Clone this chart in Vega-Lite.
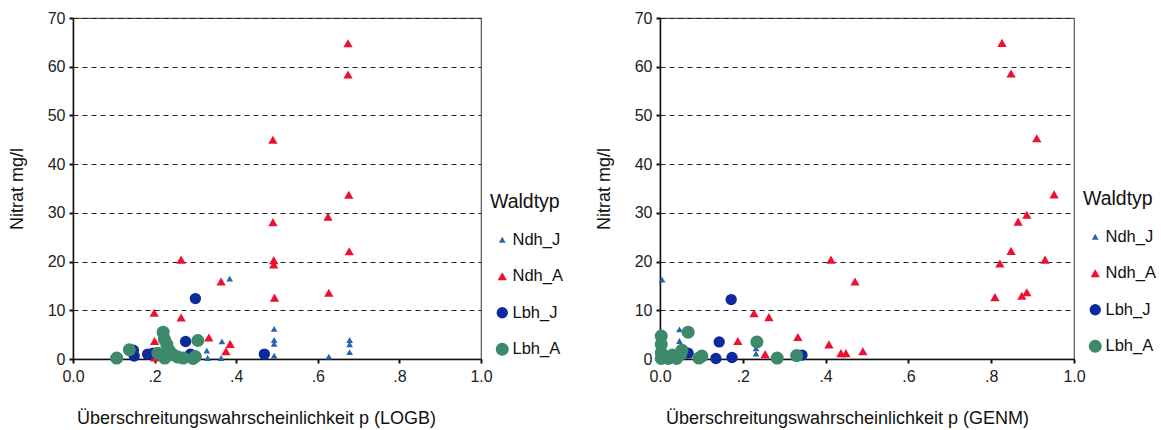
{
  "$schema": "https://vega.github.io/schema/vega-lite/v6.json",
  "padding": {"left": 7, "top": 9, "right": 0, "bottom": 5},
  "background": "white",
  "config": {
    "font": "Liberation Sans",
    "view": {"stroke": "#555", "strokeWidth": 1.2},
    "axis": {
      "labelFont": "Liberation Sans", "labelFontSize": 16, "labelColor": "#222",
      "titleFont": "Liberation Sans", "titleFontSize": 18, "titleFontWeight": "normal", "titleColor": "#111",
      "domainColor": "#111", "domainWidth": 1.5, "tickColor": "#111", "tickSize": 4, "tickWidth": 2
    },
    "legend": {
      "titleFont": "Liberation Sans", "titleFontSize": 19.5, "titleFontWeight": "normal", "titleColor": "#111",
      "labelFont": "Liberation Sans", "labelFontSize": 16.5, "labelColor": "#111",
      "padding": 0, "titlePadding": 19, "rowPadding": 19.5, "labelOffset": 2, "symbolOffset": 4, "symbolStrokeWidth": 0
    }
  },
  "datasets": {
    "pts": [
      {"m": "LOGB", "w": "Ndh_A", "p": 0.674, "n": 64.8},
      {"m": "LOGB", "w": "Ndh_A", "p": 0.674, "n": 58.4},
      {"m": "LOGB", "w": "Ndh_A", "p": 0.49, "n": 45.0},
      {"m": "LOGB", "w": "Ndh_A", "p": 0.676, "n": 33.7},
      {"m": "LOGB", "w": "Ndh_A", "p": 0.625, "n": 29.2},
      {"m": "LOGB", "w": "Ndh_A", "p": 0.49, "n": 28.1},
      {"m": "LOGB", "w": "Ndh_A", "p": 0.677, "n": 22.1},
      {"m": "LOGB", "w": "Ndh_A", "p": 0.265, "n": 20.4},
      {"m": "LOGB", "w": "Ndh_A", "p": 0.492, "n": 20.3},
      {"m": "LOGB", "w": "Ndh_A", "p": 0.492, "n": 19.4},
      {"m": "LOGB", "w": "Ndh_A", "p": 0.363, "n": 15.9},
      {"m": "LOGB", "w": "Ndh_A", "p": 0.494, "n": 12.6},
      {"m": "LOGB", "w": "Ndh_A", "p": 0.627, "n": 13.6},
      {"m": "LOGB", "w": "Ndh_A", "p": 0.199, "n": 9.5},
      {"m": "LOGB", "w": "Ndh_A", "p": 0.265, "n": 8.5},
      {"m": "LOGB", "w": "Ndh_A", "p": 0.333, "n": 4.4},
      {"m": "LOGB", "w": "Ndh_A", "p": 0.385, "n": 3.1},
      {"m": "LOGB", "w": "Ndh_A", "p": 0.375, "n": 1.6},
      {"m": "LOGB", "w": "Ndh_A", "p": 0.2, "n": 3.7},
      {"m": "LOGB", "w": "Ndh_A", "p": 0.2, "n": 0.3},
      {"m": "LOGB", "w": "Ndh_J", "p": 0.384, "n": 16.5},
      {"m": "LOGB", "w": "Ndh_J", "p": 0.365, "n": 3.6},
      {"m": "LOGB", "w": "Ndh_J", "p": 0.328, "n": 1.7},
      {"m": "LOGB", "w": "Ndh_J", "p": 0.33, "n": 0.2},
      {"m": "LOGB", "w": "Ndh_J", "p": 0.363, "n": 0.2},
      {"m": "LOGB", "w": "Ndh_J", "p": 0.493, "n": 6.2},
      {"m": "LOGB", "w": "Ndh_J", "p": 0.493, "n": 3.9},
      {"m": "LOGB", "w": "Ndh_J", "p": 0.493, "n": 3.1},
      {"m": "LOGB", "w": "Ndh_J", "p": 0.493, "n": 0.7},
      {"m": "LOGB", "w": "Ndh_J", "p": 0.627, "n": 0.5},
      {"m": "LOGB", "w": "Ndh_J", "p": 0.678, "n": 3.9},
      {"m": "LOGB", "w": "Ndh_J", "p": 0.678, "n": 3.0},
      {"m": "LOGB", "w": "Ndh_J", "p": 0.678, "n": 1.4},
      {"m": "LOGB", "w": "Lbh_J", "p": 0.3, "n": 12.4},
      {"m": "LOGB", "w": "Lbh_J", "p": 0.276, "n": 3.6},
      {"m": "LOGB", "w": "Lbh_J", "p": 0.469, "n": 1.0},
      {"m": "LOGB", "w": "Lbh_J", "p": 0.15, "n": 0.6},
      {"m": "LOGB", "w": "Lbh_J", "p": 0.148, "n": 1.8},
      {"m": "LOGB", "w": "Lbh_J", "p": 0.183, "n": 1.0},
      {"m": "LOGB", "w": "Lbh_J", "p": 0.196, "n": 1.2},
      {"m": "LOGB", "w": "Lbh_J", "p": 0.288, "n": 1.0},
      {"m": "LOGB", "w": "Lbh_A", "p": 0.107, "n": 0.2},
      {"m": "LOGB", "w": "Lbh_A", "p": 0.138, "n": 1.9},
      {"m": "LOGB", "w": "Lbh_A", "p": 0.221, "n": 5.5},
      {"m": "LOGB", "w": "Lbh_A", "p": 0.224, "n": 4.1},
      {"m": "LOGB", "w": "Lbh_A", "p": 0.23, "n": 3.0},
      {"m": "LOGB", "w": "Lbh_A", "p": 0.235, "n": 1.8},
      {"m": "LOGB", "w": "Lbh_A", "p": 0.245, "n": 0.9},
      {"m": "LOGB", "w": "Lbh_A", "p": 0.257, "n": 0.4},
      {"m": "LOGB", "w": "Lbh_A", "p": 0.27, "n": 0.2},
      {"m": "LOGB", "w": "Lbh_A", "p": 0.208, "n": 1.2},
      {"m": "LOGB", "w": "Lbh_A", "p": 0.225, "n": 0.2},
      {"m": "LOGB", "w": "Lbh_A", "p": 0.306, "n": 3.8},
      {"m": "LOGB", "w": "Lbh_A", "p": 0.3, "n": 0.5},
      {"m": "LOGB", "w": "Lbh_A", "p": 0.294, "n": 0.1},
      {"m": "GENM", "w": "Ndh_A", "p": 0.826, "n": 64.9},
      {"m": "GENM", "w": "Ndh_A", "p": 0.848, "n": 58.6},
      {"m": "GENM", "w": "Ndh_A", "p": 0.91, "n": 45.3},
      {"m": "GENM", "w": "Ndh_A", "p": 0.952, "n": 33.8},
      {"m": "GENM", "w": "Ndh_A", "p": 0.886, "n": 29.6},
      {"m": "GENM", "w": "Ndh_A", "p": 0.865, "n": 28.2},
      {"m": "GENM", "w": "Ndh_A", "p": 0.848, "n": 22.2},
      {"m": "GENM", "w": "Ndh_A", "p": 0.93, "n": 20.4},
      {"m": "GENM", "w": "Ndh_A", "p": 0.821, "n": 19.6},
      {"m": "GENM", "w": "Ndh_A", "p": 0.809, "n": 12.7},
      {"m": "GENM", "w": "Ndh_A", "p": 0.886, "n": 13.7},
      {"m": "GENM", "w": "Ndh_A", "p": 0.874, "n": 13.0},
      {"m": "GENM", "w": "Ndh_A", "p": 0.413, "n": 20.4},
      {"m": "GENM", "w": "Ndh_A", "p": 0.471, "n": 15.9},
      {"m": "GENM", "w": "Ndh_A", "p": 0.227, "n": 9.4},
      {"m": "GENM", "w": "Ndh_A", "p": 0.263, "n": 8.6},
      {"m": "GENM", "w": "Ndh_A", "p": 0.188, "n": 3.7},
      {"m": "GENM", "w": "Ndh_A", "p": 0.333, "n": 4.5},
      {"m": "GENM", "w": "Ndh_A", "p": 0.408, "n": 3.0},
      {"m": "GENM", "w": "Ndh_A", "p": 0.437, "n": 1.2},
      {"m": "GENM", "w": "Ndh_A", "p": 0.449, "n": 1.2},
      {"m": "GENM", "w": "Ndh_A", "p": 0.49, "n": 1.6},
      {"m": "GENM", "w": "Ndh_A", "p": 0.254, "n": 1.0},
      {"m": "GENM", "w": "Ndh_J", "p": 0.005, "n": 16.3},
      {"m": "GENM", "w": "Ndh_J", "p": 0.047, "n": 6.1},
      {"m": "GENM", "w": "Ndh_J", "p": 0.047, "n": 3.7},
      {"m": "GENM", "w": "Ndh_J", "p": 0.232, "n": 2.2},
      {"m": "GENM", "w": "Ndh_J", "p": 0.232, "n": 1.1},
      {"m": "GENM", "w": "Ndh_J", "p": 0.01, "n": 2.0},
      {"m": "GENM", "w": "Ndh_J", "p": 0.03, "n": 0.5},
      {"m": "GENM", "w": "Lbh_J", "p": 0.172, "n": 12.2},
      {"m": "GENM", "w": "Lbh_J", "p": 0.143, "n": 3.5},
      {"m": "GENM", "w": "Lbh_J", "p": 0.068, "n": 1.2},
      {"m": "GENM", "w": "Lbh_J", "p": 0.135, "n": 0.1},
      {"m": "GENM", "w": "Lbh_J", "p": 0.174, "n": 0.3},
      {"m": "GENM", "w": "Lbh_J", "p": 0.343, "n": 0.8},
      {"m": "GENM", "w": "Lbh_J", "p": 0.03, "n": 0.5},
      {"m": "GENM", "w": "Lbh_A", "p": 0.003, "n": 4.7},
      {"m": "GENM", "w": "Lbh_A", "p": 0.003, "n": 3.0},
      {"m": "GENM", "w": "Lbh_A", "p": 0.003, "n": 1.3},
      {"m": "GENM", "w": "Lbh_A", "p": 0.003, "n": 0.1},
      {"m": "GENM", "w": "Lbh_A", "p": 0.02, "n": 0.1},
      {"m": "GENM", "w": "Lbh_A", "p": 0.04, "n": 0.1},
      {"m": "GENM", "w": "Lbh_A", "p": 0.05, "n": 1.0},
      {"m": "GENM", "w": "Lbh_A", "p": 0.053, "n": 1.8},
      {"m": "GENM", "w": "Lbh_A", "p": 0.068, "n": 5.5},
      {"m": "GENM", "w": "Lbh_A", "p": 0.094, "n": 0.2},
      {"m": "GENM", "w": "Lbh_A", "p": 0.101, "n": 0.6},
      {"m": "GENM", "w": "Lbh_A", "p": 0.234, "n": 3.5},
      {"m": "GENM", "w": "Lbh_A", "p": 0.283, "n": 0.2},
      {"m": "GENM", "w": "Lbh_A", "p": 0.33, "n": 0.7},
      {"m": "GENM", "w": "Lbh_A", "p": 0.012, "n": 0.5},
      {"m": "GENM", "w": "Lbh_A", "p": 0.03, "n": 0.8}
    ]
  },
  "spacing": 30,
  "align": "none",
  "resolve": {
    "scale": {"color": "independent", "shape": "independent", "size": "independent"},
    "legend": {"color": "independent", "shape": "independent", "size": "independent"}
  },
  "hconcat": [
    {
      "width": 408, "height": 341,
      "data": {"name": "pts"},
      "transform": [{"filter": "datum.m == 'LOGB'"}],
      "mark": {"type": "point", "filled": true, "opacity": 1, "strokeWidth": 0},
      "encoding": {
        "x": {"field": "p", "type": "quantitative", "scale": {"domain": [0, 1], "nice": false},
          "axis": {"title": "Überschreitungswahrscheinlichkeit p (LOGB)", "values": [0, 0.2, 0.4, 0.6, 0.8, 1],
            "labelExpr": "datum.value == 0 ? '0.0' : datum.value == 1 ? '1.0' : '.' + round(datum.value * 10)",
            "grid": false, "labelPadding": 5, "titlePadding": 25, "titleX": 183, "titleAlign": "center", "labelFlush": false}},
        "y": {"field": "n", "type": "quantitative", "scale": {"domain": [0, 70], "nice": false},
          "axis": {"title": "Nitrat mg/l", "values": [0, 10, 20, 30, 40, 50, 60, 70], "grid": true,
            "gridDash": [5, 4], "gridColor": "#222", "gridWidth": 1, "labelPadding": 4, "titlePadding": 21}},
        "color": {"field": "w", "type": "nominal", "title": "Waldtyp",
          "scale": {"domain": ["Ndh_J", "Ndh_A", "Lbh_J", "Lbh_A"], "range": ["#2862b4", "#ee1030", "#0c2a9c", "#3d8a6a"]},
          "legend": {"orient": "none", "legendX": 417, "legendY": 175}},
        "shape": {"field": "w", "type": "nominal", "title": "Waldtyp",
          "scale": {"domain": ["Ndh_J", "Ndh_A", "Lbh_J", "Lbh_A"], "range": ["triangle-up", "triangle-up", "circle", "circle"]}},
        "size": {"field": "w", "type": "ordinal", "title": "Waldtyp",
          "scale": {"domain": ["Ndh_J", "Ndh_A", "Lbh_J", "Lbh_A"], "range": [45, 170, 100, 160]}}
      }
    },
    {
      "width": 414, "height": 341,
      "data": {"name": "pts"},
      "transform": [{"filter": "datum.m == 'GENM'"}],
      "mark": {"type": "point", "filled": true, "opacity": 1, "strokeWidth": 0},
      "encoding": {
        "x": {"field": "p", "type": "quantitative", "scale": {"domain": [0, 1], "nice": false},
          "axis": {"title": "Überschreitungswahrscheinlichkeit p (GENM)", "values": [0, 0.2, 0.4, 0.6, 0.8, 1],
            "labelExpr": "datum.value == 0 ? '0.0' : datum.value == 1 ? '1.0' : '.' + round(datum.value * 10)",
            "grid": false, "labelPadding": 5, "titlePadding": 25, "titleX": 187, "titleAlign": "center", "labelFlush": false}},
        "y": {"field": "n", "type": "quantitative", "scale": {"domain": [0, 70], "nice": false},
          "axis": {"title": "Nitrat mg/l", "values": [0, 10, 20, 30, 40, 50, 60, 70], "grid": true,
            "gridDash": [5, 4], "gridColor": "#222", "gridWidth": 1, "labelPadding": 4, "titlePadding": 21}},
        "color": {"field": "w", "type": "nominal", "title": "Waldtyp",
          "scale": {"domain": ["Ndh_J", "Ndh_A", "Lbh_J", "Lbh_A"], "range": ["#2862b4", "#ee1030", "#0c2a9c", "#3d8a6a"]},
          "legend": {"orient": "none", "legendX": 423, "legendY": 172}},
        "shape": {"field": "w", "type": "nominal", "title": "Waldtyp",
          "scale": {"domain": ["Ndh_J", "Ndh_A", "Lbh_J", "Lbh_A"], "range": ["triangle-up", "triangle-up", "circle", "circle"]}},
        "size": {"field": "w", "type": "ordinal", "title": "Waldtyp",
          "scale": {"domain": ["Ndh_J", "Ndh_A", "Lbh_J", "Lbh_A"], "range": [45, 170, 100, 160]}}
      }
    }
  ]
}
